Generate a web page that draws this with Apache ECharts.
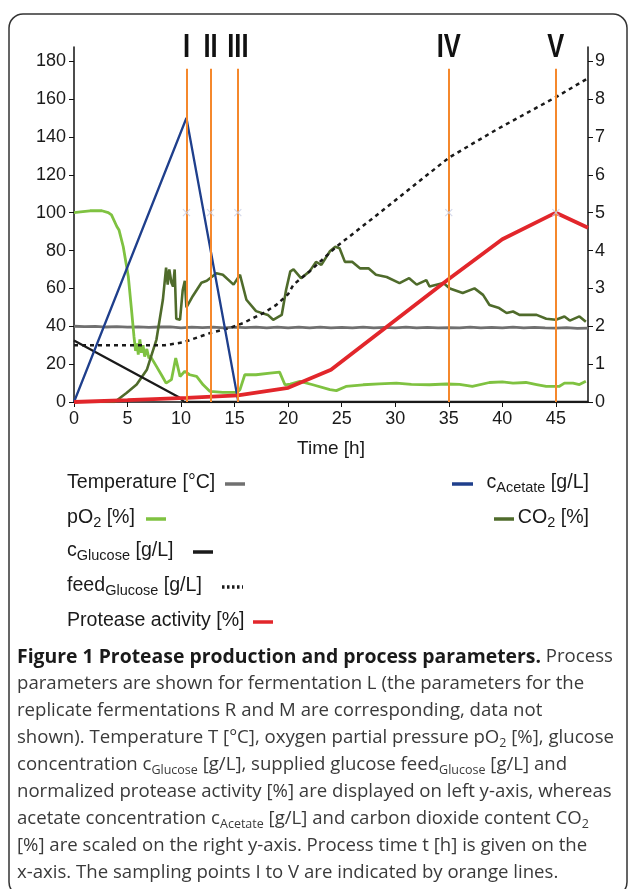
<!DOCTYPE html>
<html><head><meta charset="utf-8">
<script src="https://cdn.jsdelivr.net/npm/echarts@6/dist/echarts.min.js"></script>
<style>html,body{margin:0;padding:0;background:#fff}#c{width:629px;height:889px}</style>
</head><body><div id="c"></div>
<script>
// ---- data ----
const xTicks = [0, 5, 10, 15, 20, 25, 30, 35, 40, 45];
const leftTicks = [0, 20, 40, 60, 80, 100, 120, 140, 160, 180];
const rightTicks = [0, 1, 2, 3, 4, 5, 6, 7, 8, 9];
const samplingTimes = [10.5, 12.75, 15.3, 35, 45];
const samplingLabels = ['I', 'II', 'III', 'IV', 'V'];
const samplingMarkValue = 100;
const samplingLineTop = 176;

const temperature = [[0,40],[1,39.8],[2,39.9],[3,39.6],[4,39.8],[5,39.5],[6,39.7],[7,39.4],[8,39.6],[9,39.7],[10,39.2],[11,39.5],[12,39.3],[13,39.6],[14,39.2],[15,39.5],[16,39.3],[17,39.6],[18,39.1],[19,39.5],[20,39.2],[21,39.6],[22,39.2],[23,39.5],[24,39.1],[25,39.4],[26,39.2],[27,39.6],[28,39.1],[29,39.4],[30,39.2],[31,39.5],[32,39.1],[33,39.4],[34,39.2],[35,39.3],[36,39.1],[37,39.5],[38,39.2],[39,39.4],[40,39.1],[41,39.5],[42,39.2],[43,39.4],[44,39.1],[45,39.0],[46,39.3],[47,38.9],[48,39.0]];

const pO2 = [[0,100],[0.6,100.4],[1.5,101],[2.6,101],[3.2,100],[3.5,98.8],[4.0,92.7],[4.2,90.9],[4.6,82],[5.07,66.3],[5.4,47],[5.6,34.6],[5.75,27],[5.9,31],[6.0,25],[6.15,33],[6.3,26],[6.45,30],[6.6,24],[6.8,28],[7.0,23],[7.1,24.5],[7.7,18.8],[8.2,14],[8.6,10],[9.1,11.8],[9.5,23.2],[9.9,13.5],[10.35,16.2],[10.8,14.4],[11.45,13.5],[12.06,9.1],[12.7,5.6],[13.9,5.1],[15.2,5.1],[15.5,6.5],[15.95,14.4],[17.0,14.4],[18.3,15.3],[19.2,15.8],[19.7,9.1],[20.2,9.5],[21.1,10.9],[22.3,9.1],[23.9,6.5],[24.5,6],[25.4,8.2],[27.0,9.1],[28.5,9.6],[30.1,10],[31.5,9.3],[33.2,9.1],[34.8,9.5],[36.0,9.3],[37.2,8.2],[38.8,10.3],[40.0,10.6],[41.0,10],[42.2,10.3],[43.2,9.2],[44.1,8.2],[45.3,8.2],[45.8,10],[46.6,10],[47.2,9.2],[47.8,10.9]];

const co2 = [[0,0],[3.8,0],[4.9,0.24],[5.85,0.46],[6.8,0.85],[7.7,1.65],[8.3,2.7],[8.6,3.55],[8.75,3.1],[8.9,3.5],[9.1,3.15],[9.25,3.05],[9.4,3.5],[9.55,2.2],[9.9,2.17],[10.15,2.95],[10.35,3.2],[10.5,2.5],[11.1,2.8],[11.9,3.15],[12.4,3.2],[13.3,3.4],[13.9,3.36],[14.9,3.1],[15.5,3.36],[16.1,2.7],[17.0,2.4],[18.1,2.3],[18.6,2.17],[19.4,2.3],[19.8,2.95],[20.2,3.45],[20.5,3.5],[21.2,3.27],[22.0,3.45],[22.6,3.7],[23.1,3.62],[23.9,3.98],[24.4,4.1],[24.8,4.06],[25.3,3.7],[26.0,3.7],[26.7,3.53],[27.5,3.53],[28.2,3.36],[29.2,3.3],[30.4,3.14],[31.3,3.27],[32.0,3.1],[32.9,3.22],[33.2,3.05],[34.5,3.14],[35.1,3.0],[36.3,2.88],[37.4,3.0],[38.2,2.83],[38.8,2.56],[39.7,2.48],[40.4,2.35],[41.0,2.39],[41.6,2.3],[43.2,2.3],[44.1,2.2],[45.0,2.17],[45.8,2.26],[46.3,2.15],[47.2,2.26],[47.8,2.12]];

const glucose = [[0,32.5],[9.8,2.5],[10.3,0],[48,0]];
const feedGlucose = [[0,30],[8.5,30],[10.2,31.5],[12.7,36.4],[14.5,39],[15.8,41.7],[17.7,47],[18.9,51.3],[20,57],[20.5,62],[22,69],[24.5,82],[28,97.5],[31,111],[35,129],[39.4,143.7],[45,161],[48,171]];
const acetate = [[0,0],[10.5,7.5],[15.35,0]];
const protease = [[0,0],[5,1],[10.5,2.2],[15.3,3.5],[20,7.5],[24,17],[35,65],[40,86],[45,100],[48,92]];

// ---- styles ----
const C = {
  temp: '#707070', pO2: '#7fc241', co2: '#4f6b2b', glu: '#1a1a1a', feed: '#1a1a1a',
  ace: '#1f3f8c', pro: '#e2262b', orange: '#f5882c', mark: '#c9cfe6'
};
const FONT = '"Liberation Sans", Arial, sans-serif';
const CAP = '"Open Sans", sans-serif';

const chart = echarts.init(document.getElementById('c'), null, {renderer: 'canvas'});

function lineSeries(name, data, color, width, yIdx, extra) {
  return Object.assign({
    name, type: 'line', data, yAxisIndex: yIdx, showSymbol: false, symbol: 'none',
    lineStyle: {color, width}, itemStyle: {color}, animation: false, silent: true
  }, extra || {});
}

const option = {
  backgroundColor: '#ffffff',
  animation: false,
  grid: {left: 74, right: 41, top: 47, bottom: 487},
  xAxis: {
    type: 'value', min: 0, max: 48,
    name: 'Time [h]', nameLocation: 'middle', nameGap: 37,
    nameTextStyle: {fontFamily: FONT, fontSize: 19, color: '#1a1a1a'},
    axisLine: {show: true, lineStyle: {color: '#111', width: 1.5}},
    axisTick: {show: true, length: 5, customValues: xTicks, lineStyle: {color: '#111'}},
    axisLabel: {customValues: xTicks, fontFamily: FONT, fontSize: 18, color: '#1a1a1a', margin: 8},
    splitLine: {show: false}
  },
  yAxis: [{
    type: 'value', min: 0, max: 187.5, position: 'left',
    axisLine: {show: true, lineStyle: {color: '#111', width: 1.5}},
    axisTick: {show: true, length: 5, customValues: leftTicks, lineStyle: {color: '#111'}},
    axisLabel: {customValues: leftTicks, fontFamily: FONT, fontSize: 18, color: '#1a1a1a', margin: 8},
    splitLine: {show: false}
  }, {
    type: 'value', min: 0, max: 9.375, position: 'right',
    axisLine: {show: true, lineStyle: {color: '#111', width: 1.5}},
    axisTick: {show: true, length: 5, customValues: rightTicks, lineStyle: {color: '#111'}},
    axisLabel: {customValues: rightTicks, fontFamily: FONT, fontSize: 18, color: '#1a1a1a', margin: 7},
    splitLine: {show: false}
  }],
  series: [
    lineSeries('Temperature', temperature, C.temp, 2.8, 0),
    lineSeries('pO2', pO2, C.pO2, 2.8, 0),
    lineSeries('CO2', co2, C.co2, 2.6, 1),
    lineSeries('cGlucose', glucose, C.glu, 2.3, 0),
    lineSeries('feedGlucose', feedGlucose, C.feed, 2.5, 0, {lineStyle: {color: C.feed, width: 2.5, type: [4, 4]}}),
    lineSeries('cAcetate', acetate, C.ace, 2.3, 1),
    lineSeries('Protease', protease, C.pro, 3.8, 0),
    {
      name: 'Sampling', type: 'scatter', yAxisIndex: 0, silent: true, z: 10,
      data: samplingTimes.map(t => [t, samplingMarkValue]),
      symbol: 'path://M0,0L10,10M10,0L0,10', symbolSize: 7,
      itemStyle: {color: 'none', borderColor: C.mark, borderWidth: 1.2},
      markLine: {
        silent: true, symbol: 'none', animation: false,
        lineStyle: {color: C.orange, width: 2, type: 'solid'},
        label: {show: false},
        data: samplingTimes.map(t => [{coord: [t, 0]}, {coord: [t, samplingLineTop]}])
      }
    }
  ]
};
chart.setOption(option);

// ---- graphics: box, roman numerals, legend, caption ----
const g = [];
g.push({type: 'rect', silent: true, z: -1, shape: {x: 9, y: 14, width: 618, height: 882, r: 14},
  style: {fill: 'none', stroke: '#333', lineWidth: 1.5}});

const topY = chart.convertToPixel({yAxisIndex: 0}, samplingLineTop);
samplingTimes.forEach((t, i) => {
  const px = chart.convertToPixel({xAxisIndex: 0}, t);
  g.push({type: 'text', silent: true, x: px, y: topY - 21, scaleX: 0.75,
    style: {text: samplingLabels[i], x: 0, y: 0, align: 'center', verticalAlign: 'middle',
      fontFamily: FONT, fontWeight: 'bold', fontSize: 34, fill: '#111'}});
});

const legSub = {fontFamily: FONT, fontSize: 14.5, lineHeight: 14, verticalAlign: 'bottom', fill: '#1a1a1a'};
function legText(text, x, y, align) {
  g.push({type: 'text', silent: true, x, y,
    style: {text, x: 0, y: 0, align: align || 'left', verticalAlign: 'middle',
      fontFamily: FONT, fontSize: 19.6, lineHeight: 24, fill: '#1a1a1a', rich: {s: legSub}}});
}
function legLine(x1, x2, y, color, dash) {
  g.push({type: 'line', silent: true, shape: {x1, y1: y, x2, y2: y},
    style: {stroke: color, lineWidth: 3.5, lineDash: dash || null}});
}
legText('Temperature [°C]', 67, 483); legLine(225, 245, 484, C.temp);
legText('pO{s|2} [%]', 67, 518); legLine(146, 166, 519, C.pO2);
legText('c{s|Glucose} [g/L]', 67, 551); legLine(193, 213, 552, C.glu);
legText('feed{s|Glucose} [g/L]', 67, 586); legLine(222, 243, 587, C.feed, [2.5, 2.5]);
legText('Protease activity [%]', 67, 621); legLine(253, 273, 622, C.pro);
legText('c{s|Acetate} [g/L]', 589, 483, 'right'); legLine(452, 473, 484, C.ace);
legText('CO{s|2} [%]', 589, 518, 'right'); legLine(494, 514, 519, C.co2);

const capLines = [
  '{b|Figure 1 Protease production and process parameters.} Process',
  'parameters are shown for fermentation L (the parameters for the',
  'replicate fermentations R and M are corresponding, data not',
  'shown). Temperature T [°C], oxygen partial pressure pO{s|2} [%], glucose',
  'concentration c{s|Glucose} [g/L], supplied glucose feed{s|Glucose} [g/L] and',
  'normalized protease activity [%] are displayed on left y-axis, whereas',
  'acetate concentration c{s|Acetate} [g/L] and carbon dioxide content CO{s|2}',
  '[%] are scaled on the right y-axis. Process time t [h] is given on the',
  'x-axis. The sampling points I to V are indicated by orange lines.'
];
capLines.forEach((line, i) => {
  g.push({type: 'text', silent: true, x: 17, y: 657 + i * 27.0,
    style: {text: line, x: 0, y: 0, align: 'left', verticalAlign: 'middle',
      fontFamily: CAP, fontSize: 18.6, lineHeight: 24, fill: '#3a3a3a',
      rich: {
        b: {fontFamily: CAP, fontSize: 19.4, fontWeight: 'bold', lineHeight: 24, fill: '#1a1a1a'},
        s: {fontFamily: CAP, fontSize: 12.5, lineHeight: 13, verticalAlign: 'bottom', fill: '#3a3a3a'}
      }}});
});
chart.setOption({graphic: g});
</script></body></html>
